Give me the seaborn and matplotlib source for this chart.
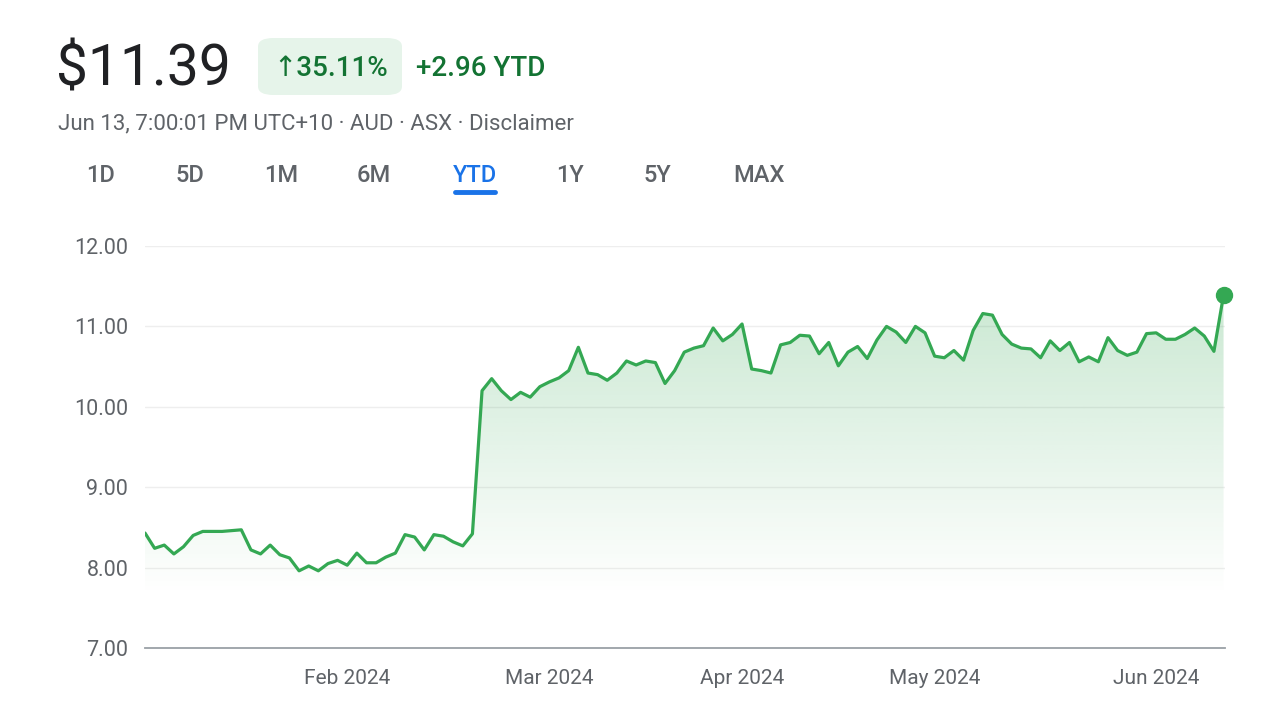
import numpy as np
import pandas as pd
import matplotlib
matplotlib.use("Agg")
import matplotlib.pyplot as plt
from matplotlib.patches import FancyBboxPatch
import seaborn as sns

# ---------------- data ----------------
start_date = "2024-01-02"
end_date = "2024-06-13"
asx_holidays = ["2024-01-26", "2024-03-29", "2024-04-01", "2024-04-25", "2024-06-10"]

prices = [
    8.43, 8.24, 8.28, 8.17, 8.26, 8.40, 8.45, 8.45, 8.45, 8.46,
    8.47, 8.22, 8.17, 8.28, 8.16, 8.12, 7.96, 8.02, 7.96, 8.05,
    8.09, 8.03, 8.18, 8.06, 8.06, 8.13, 8.18, 8.41, 8.38, 8.22,
    8.41, 8.39, 8.32, 8.27, 8.42, 10.20, 10.35, 10.20, 10.09, 10.18,
    10.12, 10.25, 10.31, 10.36, 10.45, 10.74, 10.42, 10.40, 10.33, 10.42,
    10.57, 10.52, 10.57, 10.55, 10.29, 10.45, 10.68, 10.73, 10.76, 10.98,
    10.82, 10.90, 11.03, 10.47, 10.45, 10.42, 10.77, 10.80, 10.89, 10.88,
    10.66, 10.80, 10.51, 10.68, 10.75, 10.60, 10.83, 11.00, 10.93, 10.80,
    11.00, 10.92, 10.63, 10.61, 10.70, 10.58, 10.95, 11.16, 11.14, 10.90,
    10.78, 10.73, 10.72, 10.61, 10.82, 10.70, 10.80, 10.56, 10.62, 10.56,
    10.86, 10.70, 10.64, 10.68, 10.91, 10.92, 10.84, 10.84, 10.90, 10.98,
    10.88, 10.69, 11.39,
]

price_text = "$11.39"
change_pct_text = "↑35.11%"
change_abs_text = "+2.96 YTD"
subtitle_text = "Jun 13, 7:00:01 PM UTC+10 · AUD · ASX · Disclaimer"
range_tabs = ["1D", "5D", "1M", "6M", "YTD", "1Y", "5Y", "MAX"]
active_tab = "YTD"
y_ticks = [7, 8, 9, 10, 11, 12]

# ---------------- derived ----------------
dates = pd.bdate_range(start_date, end_date)
dates = dates[~dates.isin(pd.to_datetime(asx_holidays))]
assert len(dates) == len(prices)
df = pd.DataFrame({"idx": np.arange(len(prices)), "date": dates, "price": prices})
month_first = df.groupby(df["date"].dt.to_period("M"))["idx"].min().iloc[1:]
tick_idx = list(month_first.values)
tick_lab = [df.loc[i, "date"].strftime("%b %Y") for i in tick_idx]

# ---------------- style ----------------
sns.set_theme(style="white")
plt.rcParams["font.family"] = ["Roboto", "DejaVu Sans"]

GREEN = "#34a853"
DARK_GREEN = "#137333"
GRAY = "#5f6368"
BLUE = "#1a73e8"

fig = plt.figure(figsize=(12.8, 7.2), dpi=100)
fig.patch.set_facecolor("white")
W, H = 1280, 720
ax = fig.add_axes([145 / W, 1 - 648 / H, (1225 - 145) / W, (648 - 246) / H])

xmax = len(prices) - 1 + 0.15
ax.set_xlim(0, xmax)
ax.set_ylim(7, 12)

# gridlines
for v in y_ticks[1:]:
    ax.axhline(v, color="#eeeeee", lw=1.0, zorder=0)

# gradient fill under the line
fill = ax.fill_between(df["idx"], df["price"], 7, color="none", lw=0)
top, bot = 11.4, 7.0
n = 256
alphas = np.clip(np.linspace(0, 1, n) - 0.15, 0, None) / 0.85 * 0.26
img = np.zeros((n, 2, 4))
img[:, :, 0] = 52 / 255
img[:, :, 1] = 168 / 255
img[:, :, 2] = 83 / 255
img[:, :, 3] = alphas[:, None]
im = ax.imshow(img, extent=[0, xmax, bot, top], origin="lower", aspect="auto", zorder=1)
path = fill.get_paths()[0]
im.set_clip_path(path, transform=ax.transData)
ax.set_xlim(0, xmax)
ax.set_ylim(7, 12)

sns.lineplot(data=df, x="idx", y="price", ax=ax, color=GREEN, lw=2.3, zorder=3)
ax.plot(df["idx"].iloc[-1], df["price"].iloc[-1], "o", color=GREEN, ms=11.5, zorder=4,
        clip_on=False)

# axes styling
for s in ["top", "right", "left"]:
    ax.spines[s].set_visible(False)
ax.spines["bottom"].set_color("#9aa0a6")
ax.spines["bottom"].set_linewidth(1.3)
ax.set_yticks(y_ticks)
ax.set_yticklabels([f"{v:.2f}" for v in y_ticks])
ax.set_xticks(tick_idx)
ax.set_xticklabels(tick_lab)
ax.tick_params(axis="y", length=0, pad=12, labelsize=15.5, labelcolor=GRAY)
ax.tick_params(axis="x", length=6, width=1.3, color=GRAY, pad=9, labelsize=15, labelcolor=GRAY)
ax.set_xlabel("")
ax.set_ylabel("")

# ---------------- header ----------------
def px(x, y):
    return x / W, 1 - y / H

fig.text(*px(56, 70), price_text, fontsize=41, color="#202124", va="center", ha="left")
badge = FancyBboxPatch(px(258, 95), 144 / W, 57 / H,
                       boxstyle="round,pad=0,rounding_size=0.012",
                       transform=fig.transFigure, facecolor="#e6f4ea", edgecolor="none")
fig.patches.append(badge)
fig.text(*px(331, 68), change_pct_text, fontsize=20, color=DARK_GREEN, va="center",
         ha="center", fontweight="medium", family=["Roboto", "DejaVu Sans"])
fig.text(*px(416, 68), change_abs_text, fontsize=20, color=DARK_GREEN, va="center",
         ha="left", fontweight="medium")
fig.text(*px(58, 124), subtitle_text, fontsize=16, color=GRAY, va="center", ha="left")

tab_x = [101, 190, 281, 374, 475, 570, 657, 759]
for t, x in zip(range_tabs, tab_x):
    c = BLUE if t == active_tab else GRAY
    fig.text(*px(x, 175), t, fontsize=17, color=c, va="center", ha="center", fontweight="medium")
    if t == active_tab:
        fig.add_artist(plt.Line2D([455 / W, 495 / W], [1 - 192 / H] * 2, color=BLUE, lw=3.5,
                                  solid_capstyle="round", transform=fig.transFigure))

fig.savefig("out.png", dpi=100, facecolor="white")
